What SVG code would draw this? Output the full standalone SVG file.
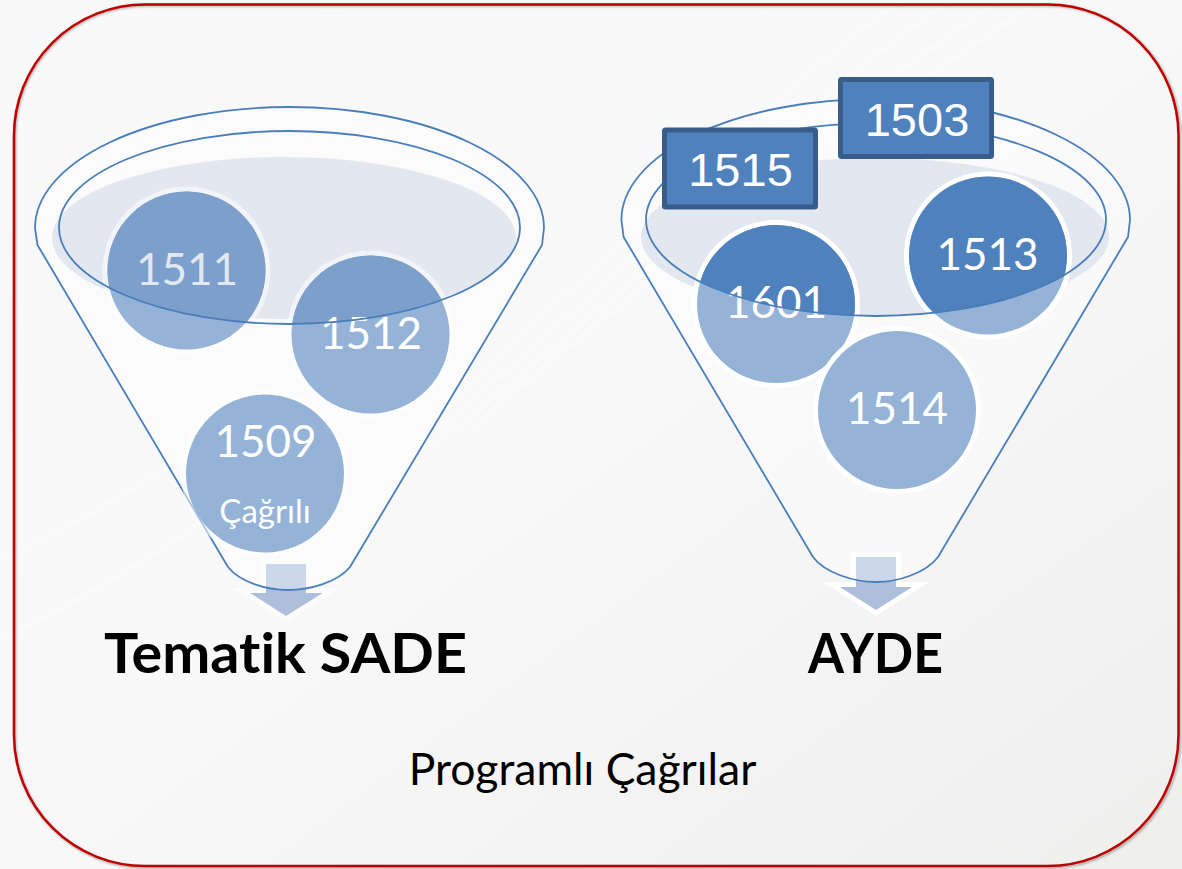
<svg xmlns="http://www.w3.org/2000/svg" width="1182" height="869" viewBox="0 0 1182 869">
<style>
.rim{fill:none;stroke:#4a7ebb;stroke-width:1.8}
.funnel{fill:#fff;fill-opacity:.38;stroke:#4a7ebb;stroke-width:1.8;stroke-linejoin:round}
.shade{fill:#dfe4ee;fill-opacity:.9}
.c{fill:#95b3d7;paint-order:stroke}
.cl{stroke:#fff;stroke-opacity:.55;stroke-width:10}
.cr{stroke:#fff;stroke-width:10}
.dl{fill:#7c9fcc}
.dr{fill:#4f81bd}
.t{font-family:Lato,"Noto Sans",sans-serif;fill:#fff;text-anchor:middle;font-size:44px}
.box{fill:#4f81bd;stroke:#385d8a;stroke-width:5;stroke-linejoin:round}
.bt{font-family:"Liberation Sans",Arial,sans-serif;fill:#fff;text-anchor:middle;font-size:47px}
.h{font-family:Lato,"Noto Sans",sans-serif;font-weight:700;fill:#000;font-variant-ligatures:none;font-size:56px}
.a{fill:#adbfdb;stroke:#fff;stroke-width:10;stroke-miterlimit:10;paint-order:stroke}
</style>
<defs>
<linearGradient id="bg" x1="0" y1="0" x2="1" y2="1"><stop offset="0" stop-color="#f9f9f9"/><stop offset=".5" stop-color="#f8f8f8"/><stop offset="1" stop-color="#eeeeed"/></linearGradient>
<clipPath id="il"><ellipse cx="289.5" cy="227.5" rx="230.5" ry="96.5"/></clipPath>
<clipPath id="ir"><ellipse cx="876" cy="219.6" rx="230" ry="96.4"/></clipPath>
<filter id="sh" x="-2%" y="-2%" width="104%" height="104%"><feGaussianBlur stdDeviation="1"/></filter>
</defs>
<rect width="1182" height="869" fill="url(#bg)"/>
<g fill="none" stroke="#fff" stroke-opacity=".28" stroke-width="6">
<path d="M470 430C620 300 800 160 1040 0"/>
<path d="M430 450C600 310 780 150 1000 0"/>
<path d="M390 470C560 330 740 150 950 0"/>
<path d="M350 490C520 350 700 150 900 0"/>
<path d="M0 640C200 540 320 440 420 340"/>
<path d="M0 560C170 480 280 390 380 300"/>
</g>
<rect x="15" y="5.500" width="1165" height="862" rx="131" ry="131" fill="none" stroke="#777" stroke-width="2.500" opacity=".6" filter="url(#sh)"/>
<rect id="frame" x="14" y="4.500" width="1164.500" height="861.500" rx="131" ry="131" fill="none" stroke="#c00000" stroke-width="2.500"/>
<g id="connectors">
<path class="a" stroke-opacity=".6" d="M266 564H306V593H322.700L286 616L250 593H266Z"/>
<path class="a" d="M856 557H896V587H912L876 610L840 587H856Z"/>
</g>
<g id="funnel-left">
<path class="funnel" d="M35 228A254.500 121 0 0 1 544 228L542 245L350 567C338 582 310 590 288 590C266 590 240 582 228 567L37.500 245Z"/>
<ellipse class="shade" cx="284" cy="238" rx="232" ry="81"/>
</g>
<g id="funnel-right">
<path class="funnel" d="M621.400 220A254.300 121 0 0 1 1130 220L1128 237L938 557C926 573 898 582 876 582C854 582 825 573 813 557L623.600 237Z"/>
<ellipse class="shade" cx="875" cy="237" rx="234" ry="79"/>
</g>
<g id="node-1511">
<circle class="c cl" cx="186.500" cy="270.500" r="79"/>
<circle class="dl" cx="186.500" cy="270.500" r="79" clip-path="url(#il)"/>
<text class="t" x="187" y="284.500" style="fill:#e2e8f2">1511</text>
</g>
<g id="node-1512">
<circle class="c cl" cx="370.500" cy="334.500" r="79"/>
<circle class="dl" cx="370.500" cy="334.500" r="79" clip-path="url(#il)"/>
<text class="t" x="371" y="348.500">1512</text>
</g>
<g id="node-1509">
<circle class="c cl" cx="265" cy="473.500" r="79"/>
<text class="t" x="265.500" y="456.500">1509</text>
<text class="t" x="265" y="523" style="font-size:33px">Çağrılı</text>
</g>
<g id="node-1601">
<circle class="c cr" cx="776" cy="304" r="79"/>
<circle class="dr" cx="776" cy="304" r="79" clip-path="url(#ir)"/>
<text class="t" x="776" y="318">1601</text>
</g>
<g id="node-1513">
<circle class="c cr" cx="988" cy="255.500" r="79"/>
<circle class="dr" cx="988" cy="255.500" r="79" clip-path="url(#ir)"/>
<text class="t" x="987.500" y="270">1513</text>
</g>
<g id="node-1514">
<circle class="c cr" cx="897" cy="410" r="79"/>
<text class="t" x="897" y="424">1514</text>
</g>
<g id="rims">
<ellipse class="rim" cx="289.500" cy="227.500" rx="230.500" ry="96.500"/>
<ellipse class="rim" cx="876" cy="219.600" rx="230" ry="96.400"/>
</g>
<g id="node-1503">
<rect class="box" x="840.500" y="79.500" width="151" height="77" rx="1"/>
<text class="bt" x="917" y="135.500">1503</text>
</g>
<g id="node-1515">
<rect class="box" x="664.500" y="130" width="151" height="77" rx="1"/>
<text class="bt" x="740.500" y="186">1515</text>
</g>
<g id="labels">
<text class="h" x="104" y="673" textLength="363" lengthAdjust="spacingAndGlyphs">Tematik SADE</text>
<text class="h" x="808" y="673" textLength="135" lengthAdjust="spacingAndGlyphs">AYDE</text>
<text x="582.500" y="785" text-anchor="middle" font-family="Lato,'Noto Sans',sans-serif" font-size="44.500" fill="#000">Programlı Çağrılar</text>
</g>
</svg>
